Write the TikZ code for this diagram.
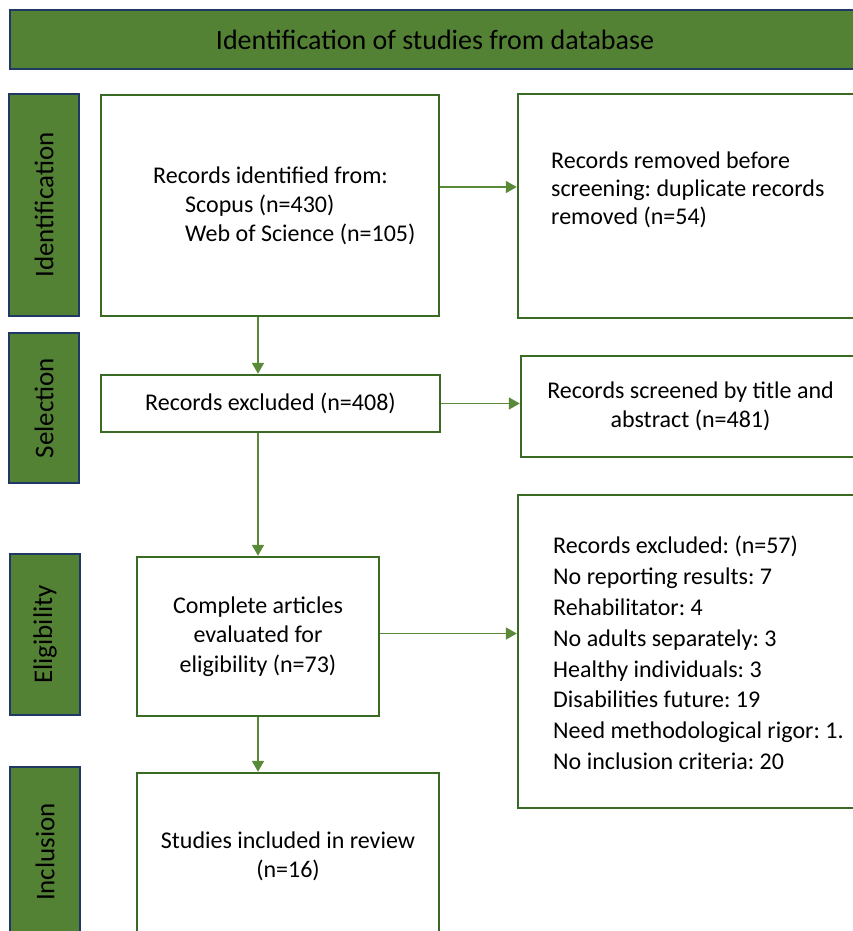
\documentclass[tikz,border=0pt]{standalone}
\usepackage{fontspec}
\setmainfont{Carlito}
\usetikzlibrary{arrows.meta}
\definecolor{sgreen}{HTML}{548235}
\definecolor{navy}{HTML}{1F3864}
\definecolor{bgreen}{HTML}{3A6B24}
\definecolor{agreen}{HTML}{5A8A38}
\frenchspacing
\begin{document}
\frenchspacing
\begin{tikzpicture}[x=1pt,y=-1pt,
 side/.style={draw=navy, line width=2pt, fill=sgreen, inner sep=0pt, font=\fontsize{27}{32}\selectfont},
 box/.style={draw=bgreen, line width=2.4pt, fill=white, inner sep=0pt, align=center, font=\fontsize{24}{29.5}\selectfont},
 txt/.style={inner sep=0pt, align=left, anchor=west, font=\fontsize{24}{29}\selectfont},
 arr/.style={draw=agreen, line width=1.8pt, -{Triangle[length=11pt,width=12pt]}}]
\useasboundingbox (0,0) rectangle (853,931);

% header
\node[side, minimum width=850, minimum height=59, font=\fontsize{28}{32}\selectfont] (head) at (435,39.5) {Identification of studies from database};

% side labels
\node[side, rotate=90, minimum width=222, minimum height=70] (sid) at (44,205) {Identification};
\node[side, rotate=90, minimum width=150, minimum height=70] (ssel) at (44,408) {Selection};
\node[side, rotate=90, minimum width=161, minimum height=70] (selig) at (45,634.5) {Eligibility};
\node[side, rotate=90, minimum width=170, minimum height=70] (sinc) at (45,852) {Inclusion};

% boxes
\node[box, minimum width=338, minimum height=221] (rid) at (270,205.5) {};
\node[txt] (ridt) at (153,206) {Records identified from:\\\hspace*{32pt}Scopus (n=430)\\\hspace*{32pt}Web of Science (n=105)};

\node[box, minimum width=342, minimum height=224] (rem) at (689,206) {};
\node[txt, font=\fontsize{24}{28}\selectfont] (remt) at (551,190) {Records removed before\\screening: duplicate records\\removed (n=54)};

\node[box, minimum width=339, minimum height=57] (excl) at (270.5,403.5) {Records excluded (n=408)};
\node[box, minimum width=339, minimum height=101] (scr) at (690.5,406.5) {Records screened by title and\\abstract (n=481)};

\node[box, minimum width=242, minimum height=159] (comp) at (258,636.5) {Complete articles\\evaluated for\\eligibility (n=73)};

\node[box, minimum width=342, minimum height=313] (ex57) at (689,651.5) {};
\node[txt, font=\fontsize{24}{30.8}\selectfont] (ex57t) at (553,653) {Records excluded: (n=57)\\No reporting results: 7\\Rehabilitator: 4\\No adults separately: 3\\Healthy individuals: 3\\Disabilities future: 19\\Need methodological rigor: 1.\\No inclusion criteria: 20};

\node[box, minimum width=302, minimum height=167] (stud) at (288,856.5) {Studies included in review\\(n=16)};

% connectors
\coordinate (r1) at ([yshift=18.5pt]rid.east);
\draw[arr] (r1) -- (r1 -| rem.west);
\draw[arr] (rid.south -| comp.north) -- (excl.north -| comp.north);
\draw[arr] (excl.east) -- (excl.east -| scr.west);
\draw[arr] (excl.south -| comp.north) -- (comp.north);
\coordinate (c1) at ([yshift=3pt]comp.east);
\draw[arr] (c1) -- (c1 -| ex57.west);
\draw[arr] (comp.south) -- (comp.south |- stud.north);
\end{tikzpicture}
\end{document}
